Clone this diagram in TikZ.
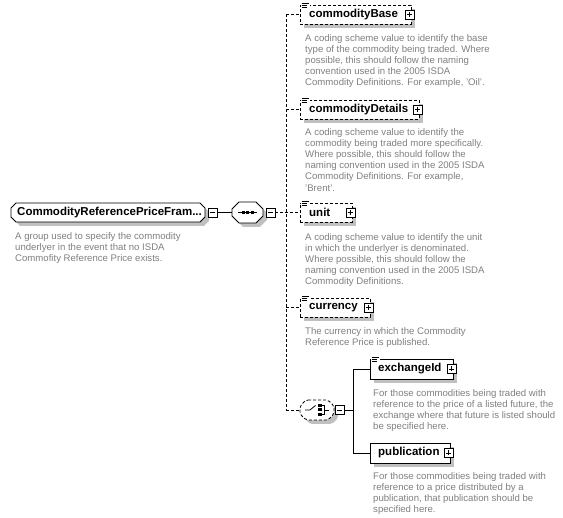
\documentclass[tikz,border=0pt]{standalone}
\usepackage{fontspec}
\setmainfont{Liberation Sans}
\usetikzlibrary{shadows}
\definecolor{desc}{RGB}{128,128,128}
\definecolor{shad}{RGB}{192,192,192}
\tikzset{
  shd/.style={drop shadow={shadow xshift=4pt,shadow yshift=-4pt,fill=shad,opacity=1}},
  elem/.style={draw,fill=white,rectangle,inner sep=0pt,line width=0.8pt,shd,minimum height=19pt},
  optl/.style={dash pattern=on 3pt off 2pt},
  ttl/.style={inner sep=0pt,anchor=west,font=\fontsize{11.5}{13}\selectfont\bfseries},
  dsc/.style={inner sep=0pt,anchor=north west,align=left,text=desc,font=\fontsize{9.6}{11.2}\selectfont},
  pmbox/.style={draw,fill=white,minimum size=9pt,inner sep=0pt,line width=0.8pt,
     drop shadow={shadow xshift=1pt,shadow yshift=-1pt,fill=black,opacity=1}},
  plusbox/.style={pmbox,path picture={\draw[line width=0.8pt]
     ([xshift=2pt]path picture bounding box.west) -- ([xshift=-2pt]path picture bounding box.east)
     ([yshift=-2pt]path picture bounding box.north) -- ([yshift=2pt]path picture bounding box.south);}},
  minusbox/.style={pmbox,path picture={\draw[line width=0.8pt]
     ([xshift=2pt]path picture bounding box.west) -- ([xshift=-2pt]path picture bounding box.east);}},
  anchorbox/.style={rectangle,inner sep=0pt},
}
% octagon: x1 y1 x2 y2 chamfer style
\newcommand{\octo}[6]{%
  \fill[shad,#6] ({#1+#5+4},{#2+4}) -- ({#3-#5+4},{#2+4}) -- ({#3+4},{#2+#5+4}) -- ({#3+4},{#4-#5+4})
     -- ({#3-#5+4},{#4+4}) -- ({#1+#5+4},{#4+4}) -- ({#1+4},{#4-#5+4}) -- ({#1+4},{#2+#5+4}) -- cycle;
  \draw[fill=white,line width=0.8pt,#6] ({#1+#5},#2) -- ({#3-#5},#2) -- (#3,{#2+#5}) -- (#3,{#4-#5})
     -- ({#3-#5},#4) -- ({#1+#5},#4) -- (#1,{#4-#5}) -- (#1,{#2+#5}) -- cycle;}
\newcommand{\annicon}[1]{%
  \fill[white] ([shift={(1pt,2pt)}]#1.north west) rectangle ([shift={(10pt,-4pt)}]#1.north west);
  \draw[line width=0.8pt] ([shift={(2pt,1.5pt)}]#1.north west) -- ([shift={(9pt,1.5pt)}]#1.north west)
    ([shift={(2pt,-0.5pt)}]#1.north west) -- ([shift={(7pt,-0.5pt)}]#1.north west)
    ([shift={(2pt,-2.5pt)}]#1.north west) -- ([shift={(7pt,-2.5pt)}]#1.north west);}
\begin{document}
\begin{tikzpicture}[x=1pt,y=-1pt]
\useasboundingbox[fill=white] (0,0) rectangle (563,518);

% root
\octo{11}{203}{205}{222}{5}{}
\node[anchorbox,minimum width=194pt,minimum height=19pt] (root) at (108,212.5) {};
\node[ttl] (roott) at (17,212.5) {CommodityReferencePriceFram...};
\node[minusbox] (rootm) at (212.5,212.5) {};
\node[dsc] (rootd) at (15,232) {A group used to specify the commodity\\underlyer in the event that no ISDA\\Commofity Reference Price exists.};

% sequence
\octo{232}{202}{263}{223}{7}{}
\node[anchorbox,minimum width=31pt,minimum height=21pt] (seq) at (247.5,212.5) {};
\coordinate (seqa) at (238,212.5);
\coordinate (seqb) at (257,212.5);
\draw[line width=0.8pt] (seqa) -- (seqb);
\foreach \xx in {243,247.5,252} \fill (\xx-1.5,211) rectangle (\xx+1.5,214);
\node[minusbox] (seqm) at (270.5,212.5) {};

% spine
\coordinate (top) at (286,14.5);
\coordinate (bot) at (286,410);
\draw[optl] (top) -- (bot);

% commodityBase
\node[elem,optl,minimum width=111pt] (cb) at (355.5,14.5) {};
\node[ttl] (cbt) at (309,14.5) {commodityBase};
\node[plusbox] (cbp) at (409.5,14.5) {};
\annicon{cb}
\node[dsc] (cbd) at (305,34) {A coding scheme value to identify the base\\type of the commodity being traded. Where\\possible, this should follow the naming\\convention used in the 2005 ISDA\\Commodity Definitions. For example, 'Oil'.};
\draw[optl] (top) -- (cb.west);

% commodityDetails
\node[elem,optl,minimum width=119pt] (cd) at (359.5,109.5) {};
\node[ttl] (cdt) at (309,109.5) {commodityDetails};
\node[plusbox] (cdp) at (417.5,109.5) {};
\annicon{cd}
\node[dsc] (cdd) at (305,128) {A coding scheme value to identify the\\commodity being traded more specifically.\\Where possible, this should follow the\\naming convention used in the 2005 ISDA\\Commodity Definitions. For example,\\'Brent'.};
\draw[optl] (cd.west -| top) -- (cd.west);

% unit
\node[elem,optl,minimum width=52pt] (un) at (326,212.5) {};
\node[ttl] (unt) at (309,212.5) {unit};
\node[plusbox] (unp) at (350.5,212.5) {};
\annicon{un}
\node[dsc] (und) at (305,233) {A coding scheme value to identify the unit\\in which the underlyer is denominated.\\Where possible, this should follow the\\naming convention used in the 2005 ISDA\\Commodity Definitions.};
\draw[optl] (seqm.east) -- (un.west);

% currency
\node[elem,optl,minimum width=70pt] (cu) at (335,307.5) {};
\node[ttl] (cut) at (309,307.5) {currency};
\node[plusbox] (cup) at (368.5,307.5) {};
\annicon{cu}
\node[dsc] (cud) at (305,327) {The currency in which the Commodity\\Reference Price is published.};
\draw[optl] (cu.west -| top) -- (cu.west);

% choice
\octo{300}{400}{334}{420}{6}{optl,rounded corners=2pt}
\node[anchorbox,minimum width=34pt,minimum height=20pt] (ch) at (317,410) {};
\coordinate (cha) at (305,410);
\coordinate (chb) at (310,410);
\coordinate (chc) at (315.5,405.5);
\draw[line width=0.8pt] (cha) -- (chb) -- (chc);
\foreach \yy in {405.5,410,414.5} \fill (318,\yy-1.5) rectangle (321.5,\yy+1.5);
\draw[line width=0.8pt] (321.5,405.5) -- (324,405.5) -- (324,414.5) -- (321.5,414.5) (324,410) -- (329,410);
\node[minusbox] (chm) at (339.5,410) {};
\draw[optl] (ch.west -| top) -- (ch.west);
\coordinate (chv) at (353,410);

% exchangeId
\node[elem,minimum width=83pt,minimum height=20pt] (ex) at (411.5,369) {};
\node[ttl] (ext) at (378,369) {exchangeId};
\node[plusbox] (exp) at (451.5,369) {};
\annicon{ex}
\node[dsc] (exd) at (373,389) {For those commodities being traded with\\reference to the price of a listed future, the\\exchange where that future is listed should\\be specified here.};

% publication
\node[elem,minimum width=80pt,minimum height=20pt] (pb) at (410,453) {};
\node[ttl] (pbt) at (378,453) {publication};
\node[plusbox] (pbp) at (448.5,453) {};
\node[dsc] (pbd) at (373,472) {For those commodities being traded with\\reference to a price distributed by a\\publication, that publication should be\\specified here.};

% connectors
\draw[line width=0.8pt] (rootm.east) -- (seq.west);
\draw[line width=0.8pt] (chm.east) -- (chv);
\draw[line width=0.8pt] (ex.west) -- (ex.west -| chv) -- (pb.west -| chv) -- (pb.west);
\end{tikzpicture}
\end{document}
